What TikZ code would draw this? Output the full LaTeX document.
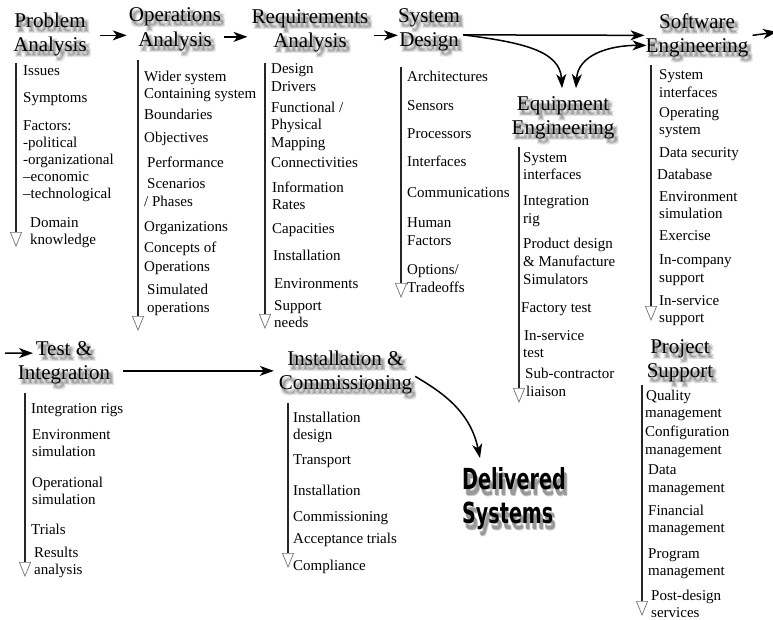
\documentclass[tikz,border=0pt]{standalone}
\usepackage{fontspec}
\setmainfont{Liberation Serif}
\newfontfamily\dsfont{DejaVu Sans}
\usetikzlibrary{arrows.meta,calc}

% soft drop shadow for headings: grey copies under the black text
\newsavebox\ttlbox
\newcommand\shcopy[3]{\makebox[0pt][l]{\hspace*{#1}\raisebox{#2}{\textcolor{#3}{\usebox\ttlbox}}}}
\newcommand\softshadow{%
  \shcopy{1pt}{-2pt}{black!12}\shcopy{5pt}{-2pt}{black!12}%
  \shcopy{1pt}{-6pt}{black!12}\shcopy{5pt}{-6pt}{black!12}%
  \shcopy{2pt}{-3pt}{black!24}\shcopy{4pt}{-3pt}{black!24}%
  \shcopy{2pt}{-5pt}{black!24}\shcopy{4pt}{-5pt}{black!24}%
  \shcopy{3pt}{-4pt}{black!38}\usebox\ttlbox}
\newcommand\ttl[1]{\setbox\ttlbox\hbox{\begin{tabular}[t]{@{}c@{}}#1\end{tabular}}\softshadow}
\newcommand\bigttl[1]{\setbox\ttlbox\hbox{\begin{tabular}[t]{@{}l@{}}#1\end{tabular}}%
  \shcopy{3pt}{-5pt}{black!22}\shcopy{5pt}{-7pt}{black!22}%
  \shcopy{4pt}{-6pt}{black!40}\usebox\ttlbox}

% one column of activity lines: x / baseline / text
\newcommand\itemlist[2]{\foreach \ix/\iy/\itx [count=\ii] in {#2}
  {\node[item] (#1-\ii) at (\ix,\iy) {\itx};}}

\tikzset{
  title/.style={inner sep=0pt, anchor=base, font=\fontsize{21}{24.5}\selectfont},
  item/.style={inner sep=0pt, anchor=base west, font=\fontsize{15}{17}\selectfont},
  flow/.style={line width=1.5pt, -{Stealth[length=14pt,width=10pt,inset=4pt]}},
  flowboth/.style={line width=1.5pt,
    {Stealth[length=14pt,width=10pt,inset=4pt]}-{Stealth[length=14pt,width=10pt,inset=4pt]}},
  stem/.style={draw=black!85, line width=1.6pt,
    -{Triangle[color=black!55,fill=white,length=15pt,width=12pt,line width=0.7pt]}}
}

\begin{document}
\begin{tikzpicture}[x=1pt,y=-1pt]
\fill[white] (0,0) rectangle (773,619);
\useasboundingbox (0,0) rectangle (773,619);

% headings
\node[title] (pa) at (50,27)    {\ttl{Problem\\Analysis}};
\node[title] (oa) at (175,21.5) {\ttl{Operations\\Analysis}};
\node[title] (rq) at (310,23)   {\ttl{Requirements\\Analysis}};
\node[title] (sd) at (429,22)   {\ttl{System\\Design}};
\node[title] (se) at (697,28)   {\ttl{Software\\Engineering}};
\node[title] (ee) at (563,110)  {\ttl{Equipment\\Engineering}};
\node[title] (ti) at (64,355)   {\ttl{Test \&\\Integration}};
\node[title] (ic) at (345.5,365){\ttl{Installation \&\\Commissioning}};
\node[title] (ps) at (680,353)  {\ttl{Project\\Support}};
\node[inner sep=0pt, anchor=base west] (ds) at (462,489)
  {\scalebox{0.66}[1]{\fontsize{29}{34}\selectfont\dsfont\bfseries\bigttl{Delivered\\Systems}}};

% activity lists
\itemlist{pa}{23/75/Issues,23/102/Symptoms,23/130/Factors:,23/147/-political,
  23/164/-organizational,23/181/–economic,23/198/–technological,
  30/227/Domain,30/244/knowledge}
\itemlist{oa}{144/81/Wider system,144/98/Containing system,144/119/Boundaries,
  144/142/Objectives,147/167/Performance,147/188/Scenarios,144/206/{/ Phases},
  144/231/Organizations,144/252/Concepts of,144/271/Operations,
  147/294/Simulated,147/312/operations}
\itemlist{rq}{271/73/Design,271/91/Drivers,271/112/{Functional /},271/129/Physical,
  271/147/Mapping,271/167/Connectivities,272/192/Information,272/209/Rates,
  272/233/Capacities,273/260/Installation,274/288/Environments,
  274/310/Support,274/327/needs}
\itemlist{sd}{407/81/Architectures,407/110/Sensors,407/138/Processors,
  407/166/Interfaces,407/197/Communications,407/227/Human,407/245/Factors,
  407/274/{Options/},407/292/Tradeoffs}
\itemlist{ee}{523/162/System,523/179/interfaces,523/205/Integration,523/223/rig,
  523/248/Product design,523/266/\& Manufacture,523/284/Simulators,
  521/312/Factory test,524/340/In-service,523/357/test,
  525/378/Sub-contractor,526/396/liaison}
\itemlist{se}{659/79/System,659/97/interfaces,659/117/Operating,659/134/system,
  659/157/Data security,657/179/Database,659/201/Environment,659/218/simulation,
  659/240/Exercise,659/264/In-company,659/282/support,659/305/In-service,
  659/322/support}
\itemlist{ti}{31/413/Integration rigs,32/439/Environment,32/456/simulation,
  32/487/Operational,32/504/simulation,31/534/Trials,34/557/Results,34/574/analysis}
\itemlist{ic}{293/422/Installation,293/439/design,293/464/Transport,
  293/495/Installation,293/521/Commissioning,293/543/Acceptance trials,
  293/570/Compliance}
\itemlist{ps}{646/400/Quality,645/417/management,645/436/Configuration,
  645/454/management,648/474/Data,648/492/management,648/515/Financial,
  648/532/management,648/558/Program,648/575/management,
  651/600/Post-design,651/617/services}

% vertical stems under each heading
\foreach \nm/\sx/\sy/\ey in {pa/16/63/247, oa/138/60/331, rq/265/63/329,
    sd/401/67/298, ee/519/147/403, se/651/65/321, ti/25/393/577,
    ic/288/403/568, ps/642/385/616} {
  \coordinate (\nm-top) at (\sx,\sy);
  \coordinate (\nm-end) at (\sx,\ey);
  \draw[stem] (\nm-top) -- (\nm-end);
}

% flow between phases
\draw[flow] ($(pa.east)+(13,-2)$) -- ($(oa.west |- pa.east)+(-2,-2)$);
\draw[flow] ($(oa.east)+(3,5)$) -- ($(rq.west |- oa.east)+(-4,5)$);
\draw[flow] ($(rq.east)+(5,2)$) -- ($(sd.west |- rq.east)+(0,2)$);
\draw[flow] ($(sd.east)+(3,2.5)$) -- ($(se.west)+(-1,-3)$);
\draw[flow] ($(sd.east)+(3,2.5)$) .. controls ($(sd.east)+(62,10)$) and ($(ee.north)+(-3,-42)$) .. ($(ee.north)+(-1,-4.5)$);
\draw[flowboth] ($(ee.north)+(13,-4.5)$) .. controls ($(ee.north)+(15,-38)$) and ($(se.west)+(-36,7)$) .. ($(se.west)+(1,7)$);
\coordinate (exitR) at (777,32);
\draw[flow] ($(se.east)+(4,-3)$) -- (exitR);
\coordinate (entryL) at (5,353);
\draw[flow] (entryL) -- ($(ti.north)+(-31,15.5)$);
\draw[flow] ($(ti.east)+(13,5.5)$) -- ($(ic.west |- ti.east)+(-5,5.5)$);
\draw[flow] ($(ic.east)+(3,1)$) .. controls ($(ic.east)+(28,16)$) and ($(ds.north west)+(8,-55)$) .. ($(ds.north west)+(18,-7)$);
\end{tikzpicture}
\end{document}
